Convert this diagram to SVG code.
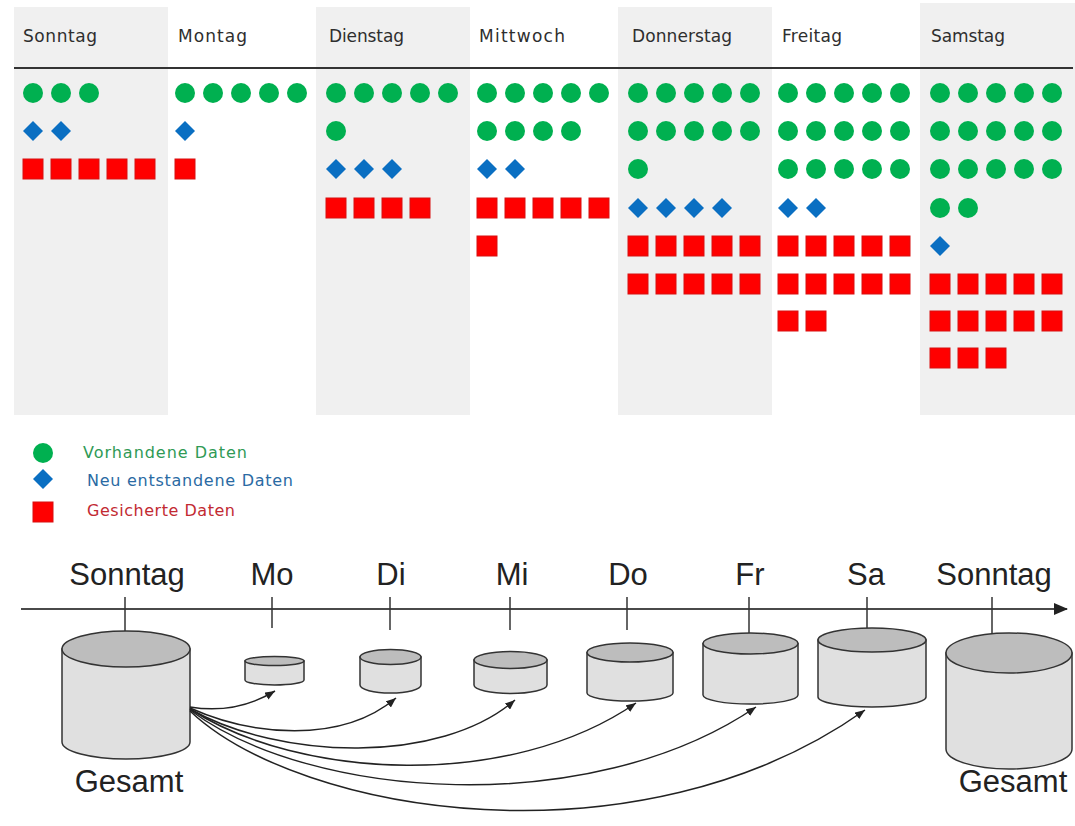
<svg xmlns="http://www.w3.org/2000/svg" xmlns:xlink="http://www.w3.org/1999/xlink" width="1075" height="826" viewBox="0 0 1075 826">
<style>
.col{fill:#f0f0f0}
.hdr{font-family:"DejaVu Sans","Liberation Sans",sans-serif;font-size:17px;fill:#2e2e2e}
.leg{font-family:"DejaVu Sans","Liberation Sans",sans-serif;font-size:16px}
.lbl{font-family:"Liberation Sans",Arial,sans-serif;font-size:31px;fill:#222;text-anchor:middle}
.axis{stroke:#4a4a4a;stroke-width:2;fill:none}
.tick{stroke:#333;stroke-width:1.5;fill:none}
.body{fill:#e0e0e0;stroke:#333;stroke-width:1.5}
.top{fill:#bdbdbd;stroke:#333;stroke-width:1.5}
.link{fill:none;stroke:#222;stroke-width:1.5}
</style>
<defs>
<circle id="c" cx="0" cy="0" r="10" fill="#00b050"/>
<polygon id="d" points="0,-10 10,0 0,10 -10,0" fill="#0a6fc2"/>
<rect id="s" x="-10" y="-10" width="20" height="20" fill="#ff0000" stroke="#d81010" stroke-width="1"/>
<marker id="ah" markerWidth="10" markerHeight="8" refX="10" refY="4" orient="auto" markerUnits="userSpaceOnUse">
<path d="M0,0 L10,4 L0,8 z" fill="#222"/>
</marker>
<marker id="axh" markerWidth="14" markerHeight="12" refX="13" refY="6" orient="auto" markerUnits="userSpaceOnUse">
<path d="M0,0 L14,6 L0,12 z" fill="#222"/>
</marker>
</defs>
<rect x="0" y="0" width="1075" height="826" fill="#ffffff"/>

<!-- column backgrounds -->
<g id="columns">
<rect class="col" x="14" y="7" width="154" height="408"/>
<rect class="col" x="316" y="7" width="154" height="408"/>
<rect class="col" x="618" y="7" width="154" height="408"/>
<rect class="col" x="920" y="3" width="155" height="412"/>
<line x1="14" y1="68" x2="1073" y2="68" stroke="#333" stroke-width="2"/>
</g>

<g id="sonntag">
<text class="hdr" x="23" y="42" textLength="74">Sonntag</text>
<use href="#c" x="33" y="93"/><use href="#c" x="61" y="93"/><use href="#c" x="89" y="93"/>
<use href="#d" x="33" y="131"/><use href="#d" x="61" y="131"/>
<use href="#s" x="33" y="169"/><use href="#s" x="61" y="169"/><use href="#s" x="89" y="169"/><use href="#s" x="117" y="169"/><use href="#s" x="145" y="169"/>
</g>

<g id="montag">
<text class="hdr" x="178" y="42" textLength="69">Montag</text>
<use href="#c" x="185" y="93"/><use href="#c" x="213" y="93"/><use href="#c" x="241" y="93"/><use href="#c" x="269" y="93"/><use href="#c" x="297" y="93"/>
<use href="#d" x="185" y="131"/>
<use href="#s" x="185" y="169"/>
</g>

<g id="dienstag">
<text class="hdr" x="329" y="42" textLength="75">Dienstag</text>
<use href="#c" x="336" y="93"/><use href="#c" x="364" y="93"/><use href="#c" x="392" y="93"/><use href="#c" x="420" y="93"/><use href="#c" x="448" y="93"/>
<use href="#c" x="336" y="131"/>
<use href="#d" x="336" y="169"/><use href="#d" x="364" y="169"/><use href="#d" x="392" y="169"/>
<use href="#s" x="336" y="208"/><use href="#s" x="364" y="208"/><use href="#s" x="392" y="208"/><use href="#s" x="420" y="208"/>
</g>

<g id="mittwoch">
<text class="hdr" x="479" y="42" textLength="86">Mittwoch</text>
<use href="#c" x="487" y="93"/><use href="#c" x="515" y="93"/><use href="#c" x="543" y="93"/><use href="#c" x="571" y="93"/><use href="#c" x="599" y="93"/>
<use href="#c" x="487" y="131"/><use href="#c" x="515" y="131"/><use href="#c" x="543" y="131"/><use href="#c" x="571" y="131"/>
<use href="#d" x="487" y="169"/><use href="#d" x="515" y="169"/>
<use href="#s" x="487" y="208"/><use href="#s" x="515" y="208"/><use href="#s" x="543" y="208"/><use href="#s" x="571" y="208"/><use href="#s" x="599" y="208"/>
<use href="#s" x="487" y="246"/>
</g>

<g id="donnerstag">
<text class="hdr" x="632" y="42" textLength="100">Donnerstag</text>
<use href="#c" x="638" y="93"/><use href="#c" x="666" y="93"/><use href="#c" x="694" y="93"/><use href="#c" x="722" y="93"/><use href="#c" x="750" y="93"/>
<use href="#c" x="638" y="131"/><use href="#c" x="666" y="131"/><use href="#c" x="694" y="131"/><use href="#c" x="722" y="131"/><use href="#c" x="750" y="131"/>
<use href="#c" x="638" y="169"/>
<use href="#d" x="638" y="208"/><use href="#d" x="666" y="208"/><use href="#d" x="694" y="208"/><use href="#d" x="722" y="208"/>
<use href="#s" x="638" y="246"/><use href="#s" x="666" y="246"/><use href="#s" x="694" y="246"/><use href="#s" x="722" y="246"/><use href="#s" x="750" y="246"/>
<use href="#s" x="638" y="284"/><use href="#s" x="666" y="284"/><use href="#s" x="694" y="284"/><use href="#s" x="722" y="284"/><use href="#s" x="750" y="284"/>
</g>

<g id="freitag">
<text class="hdr" x="782" y="42" textLength="60">Freitag</text>
<use href="#c" x="788" y="93"/><use href="#c" x="816" y="93"/><use href="#c" x="844" y="93"/><use href="#c" x="872" y="93"/><use href="#c" x="900" y="93"/>
<use href="#c" x="788" y="131"/><use href="#c" x="816" y="131"/><use href="#c" x="844" y="131"/><use href="#c" x="872" y="131"/><use href="#c" x="900" y="131"/>
<use href="#c" x="788" y="169"/><use href="#c" x="816" y="169"/><use href="#c" x="844" y="169"/><use href="#c" x="872" y="169"/><use href="#c" x="900" y="169"/>
<use href="#d" x="788" y="208"/><use href="#d" x="816" y="208"/>
<use href="#s" x="788" y="246"/><use href="#s" x="816" y="246"/><use href="#s" x="844" y="246"/><use href="#s" x="872" y="246"/><use href="#s" x="900" y="246"/>
<use href="#s" x="788" y="284"/><use href="#s" x="816" y="284"/><use href="#s" x="844" y="284"/><use href="#s" x="872" y="284"/><use href="#s" x="900" y="284"/>
<use href="#s" x="788" y="321"/><use href="#s" x="816" y="321"/>
</g>

<g id="samstag">
<text class="hdr" x="931" y="42" textLength="74">Samstag</text>
<use href="#c" x="940" y="93"/><use href="#c" x="968" y="93"/><use href="#c" x="996" y="93"/><use href="#c" x="1024" y="93"/><use href="#c" x="1052" y="93"/>
<use href="#c" x="940" y="131"/><use href="#c" x="968" y="131"/><use href="#c" x="996" y="131"/><use href="#c" x="1024" y="131"/><use href="#c" x="1052" y="131"/>
<use href="#c" x="940" y="169"/><use href="#c" x="968" y="169"/><use href="#c" x="996" y="169"/><use href="#c" x="1024" y="169"/><use href="#c" x="1052" y="169"/>
<use href="#c" x="940" y="208"/><use href="#c" x="968" y="208"/>
<use href="#d" x="940" y="246"/>
<use href="#s" x="940" y="284"/><use href="#s" x="968" y="284"/><use href="#s" x="996" y="284"/><use href="#s" x="1024" y="284"/><use href="#s" x="1052" y="284"/>
<use href="#s" x="940" y="321"/><use href="#s" x="968" y="321"/><use href="#s" x="996" y="321"/><use href="#s" x="1024" y="321"/><use href="#s" x="1052" y="321"/>
<use href="#s" x="940" y="358"/><use href="#s" x="968" y="358"/><use href="#s" x="996" y="358"/>
</g>

<g id="legend">
<use href="#c" x="43" y="453"/>
<text class="leg" x="83" y="458" textLength="164" fill="#2f9a55">Vorhandene Daten</text>
<use href="#d" x="43" y="479"/>
<text class="leg" x="87" y="486" textLength="206" fill="#2a6aa3">Neu entstandene Daten</text>
<use href="#s" x="43" y="512"/>
<text class="leg" x="87" y="516" textLength="148" fill="#c22a32">Gesicherte Daten</text>
</g>

<!-- timeline -->
<g id="timeline">
<line class="axis" x1="21" y1="609" x2="1067" y2="609" marker-end="url(#axh)"/>
<text class="lbl" x="127" y="585">Sonntag</text>
<text class="lbl" x="272" y="585">Mo</text>
<text class="lbl" x="391" y="585">Di</text>
<text class="lbl" x="512" y="585">Mi</text>
<text class="lbl" x="628" y="585">Do</text>
<text class="lbl" x="750" y="585">Fr</text>
<text class="lbl" x="866" y="585">Sa</text>
<text class="lbl" x="994" y="585">Sonntag</text>
<line class="tick" x1="125" y1="597" x2="125" y2="631"/>
<line class="tick" x1="272" y1="597" x2="272" y2="628"/>
<line class="tick" x1="390" y1="597" x2="390" y2="630"/>
<line class="tick" x1="510" y1="597" x2="510" y2="630"/>
<line class="tick" x1="627" y1="597" x2="627" y2="630"/>
<line class="tick" x1="749" y1="597" x2="749" y2="633"/>
<line class="tick" x1="867" y1="597" x2="867" y2="628"/>
<line class="tick" x1="992" y1="597" x2="992" y2="633"/>
</g>

<g id="cyl-sonntag">
<path class="body" d="M62,649 V742 A64,17 0 0 0 190,742 V649 Z"/>
<ellipse class="top" cx="126" cy="649" rx="64" ry="18"/>
<text class="lbl" x="129" y="792">Gesamt</text>
</g>
<g id="cyl-mo">
<path class="body" d="M245,661 V680 A29.5,5 0 0 0 304,680 V661 Z"/>
<ellipse class="top" cx="274.5" cy="661" rx="29.5" ry="4.5"/>
</g>
<g id="cyl-di">
<path class="body" d="M360,657 V685 A30.5,8 0 0 0 421,685 V657 Z"/>
<ellipse class="top" cx="390.5" cy="657" rx="30.5" ry="7.5"/>
</g>
<g id="cyl-mi">
<path class="body" d="M474,660 V685 A36.5,8.5 0 0 0 547,685 V660 Z"/>
<ellipse class="top" cx="510.5" cy="660" rx="36.5" ry="8.5"/>
</g>
<g id="cyl-do">
<path class="body" d="M587,652.5 V693 A43,8 0 0 0 673,693 V652.5 Z"/>
<ellipse class="top" cx="630" cy="652.5" rx="43" ry="9.5"/>
</g>
<g id="cyl-fr">
<path class="body" d="M703,643.5 V695 A47.5,9 0 0 0 798,695 V643.5 Z"/>
<ellipse class="top" cx="750.5" cy="643.5" rx="47.5" ry="10.5"/>
</g>
<g id="cyl-sa">
<path class="body" d="M818,640 V697 A54,10 0 0 0 926,697 V640 Z"/>
<ellipse class="top" cx="872" cy="640" rx="54" ry="12"/>
</g>
<g id="cyl-sonntag2">
<path class="body" d="M946,653 V749 A63,20 0 0 0 1072,749 V653 Z"/>
<ellipse class="top" cx="1009" cy="653" rx="63" ry="20"/>
<text class="lbl" x="1013" y="792">Gesamt</text>
</g>

<g id="connectors">
<path class="link" d="M190,707 C220,712 250,706 275,691" marker-end="url(#ah)"/>
<path class="link" d="M190,708 C250,735 340,745 396,698" marker-end="url(#ah)"/>
<path class="link" d="M190,709 C280,760 440,765 515,700" marker-end="url(#ah)"/>
<path class="link" d="M190,709 C300,780 510,790 636,703" marker-end="url(#ah)"/>
<path class="link" d="M190,710 C310,800 590,820 756,707" marker-end="url(#ah)"/>
<path class="link" d="M190,711 C300,815 640,870 865,710" marker-end="url(#ah)"/>
</g>
</svg>
